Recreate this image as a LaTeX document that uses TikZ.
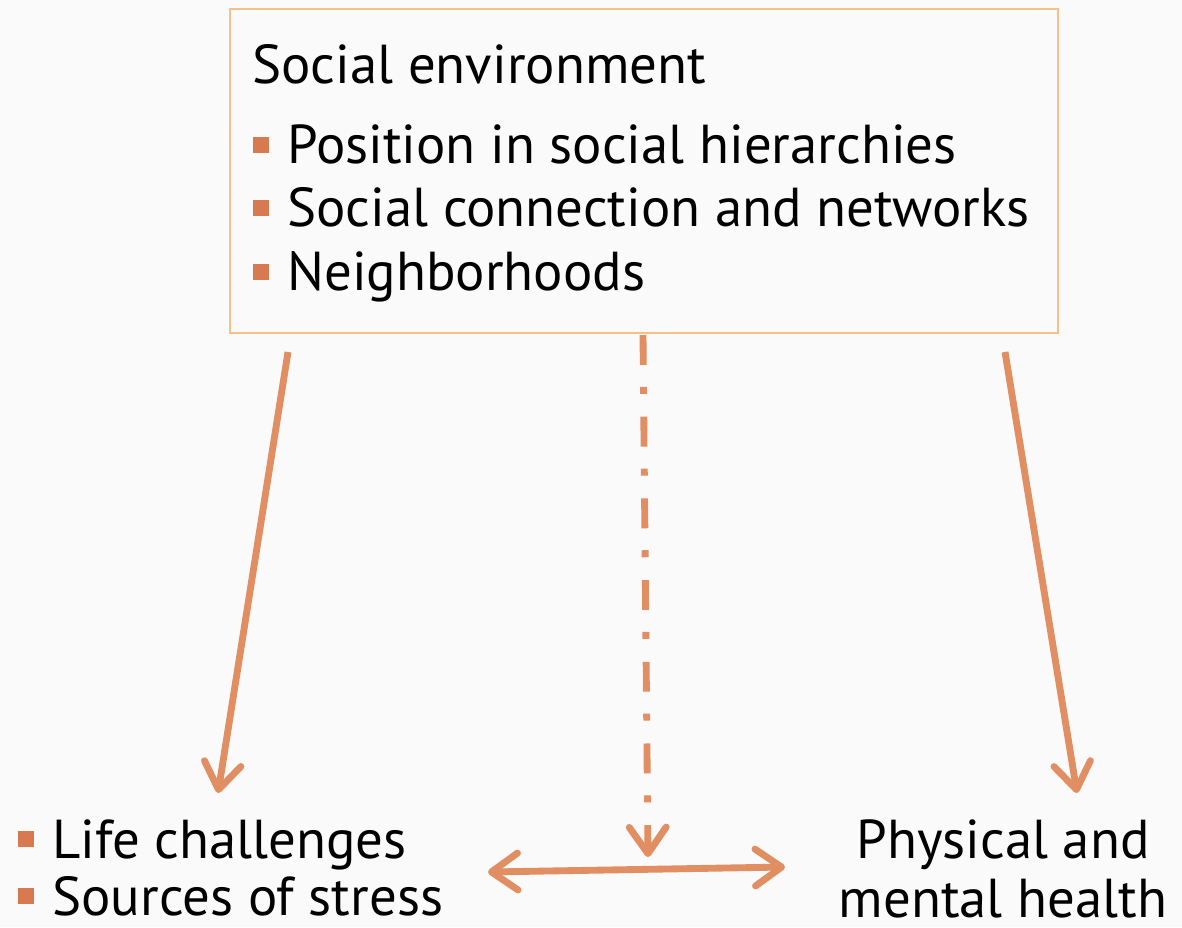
\documentclass[tikz,border=0pt]{standalone}
\usepackage{fontspec}
\setmainfont{PT Sans}
\usetikzlibrary{arrows.meta}
\definecolor{arrowc}{HTML}{E08E62}
\definecolor{bulletc}{HTML}{D77A50}
\definecolor{framec}{HTML}{F9BF88}
\definecolor{bgc}{HTML}{FAFAFA}

\begin{document}
\begin{tikzpicture}[x=0.02cm,y=-0.02cm,
	txt/.style={font=\fontsize{31.2}{37}\selectfont, inner sep=0pt, anchor=base west},
	ctxt/.style={font=\fontsize{31.2}{37}\selectfont, inner sep=0pt, anchor=base},
	link/.style={draw=arrowc, line width=3.9pt, -{Straight Barb[length=15pt,width=21pt,round]}}]
\fill[bgc] (0,0) rectangle (1182,927);
\node[draw=framec, line width=1.1pt, minimum width=16.56cm, minimum height=6.48cm, inner sep=0pt] (env) at (644,171) {};
\node[txt] (title) at (252,83) {Social environment};
\foreach \y/\t [count=\i] in {163/Position in social hierarchies,226/Social connection and networks,290/Neighborhoods}
	{
	\fill[bulletc] (253,\y-26) rectangle (269,\y-10);
	\node[txt] (item\i) at (287,\y) {\t};
	}
\foreach \y/\t [count=\i] in {858/Life challenges,915/Sources of stress}
	{
	\fill[bulletc] (18,\y-27) rectangle (34,\y-11);
	\node[txt] (life\i) at (52,\y) {\t};
	}
\node[ctxt] (health1) at (1003,858) {Physical and};
\node[ctxt] (health2) at (1003,917) {mental health};
\coordinate (l0) at (288,352);
\coordinate (l1) at (218,793);
\coordinate (r0) at (1005,352);
\coordinate (r1) at (1077,793);
\coordinate (m0) at (643,335);
\coordinate (m1) at (648,857);
\coordinate (dl) at (488,872);
\coordinate (dr) at (785,867);
\draw[link] (l0) -- (l1);
\draw[link] (r0) -- (r1);
\draw[link, dash pattern=on 17pt off 12.5pt on 4pt off 13pt] (m0) -- (m1);
\draw[link, {Straight Barb[length=15pt,width=21pt,round]}-{Straight Barb[length=15pt,width=21pt,round]}] (dl) -- (dr);
\end{tikzpicture}
\end{document}
